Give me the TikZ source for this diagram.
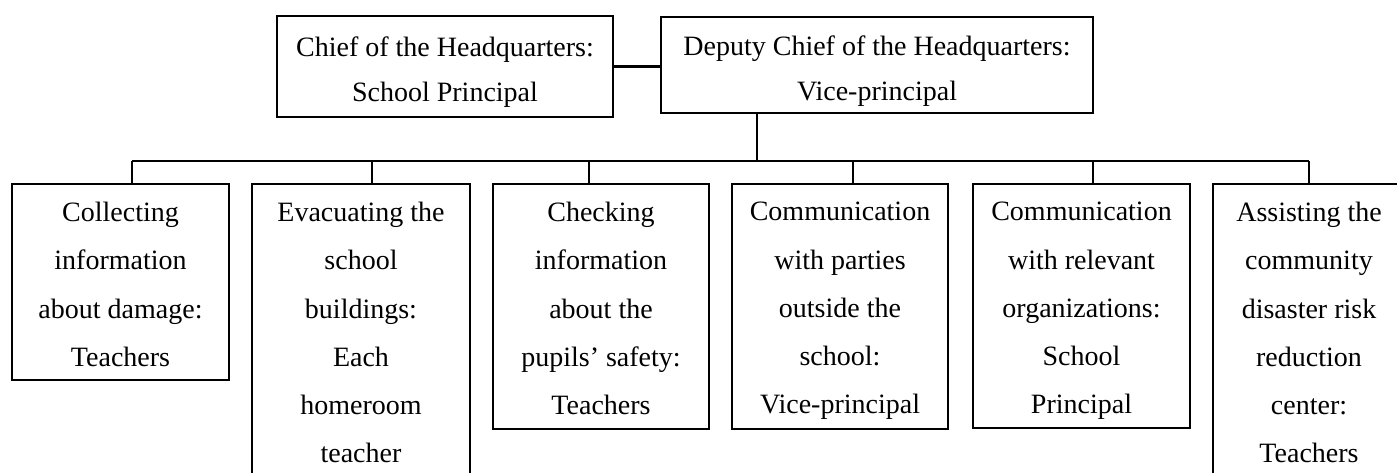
\documentclass[tikz,border=0pt]{standalone}
\usepackage{fontspec}
\setmainfont{Liberation Serif}
\begin{document}
\begin{tikzpicture}[x=1pt,y=-1pt,
  box/.style={draw=black, line width=2.8pt, rectangle, inner sep=0pt},
  label text/.style={inner sep=0pt, align=center, anchor=north,
    font=\fontsize{28}{48.2}\selectfont},
  top text/.style={label text, font=\fontsize{28}{45.5}\selectfont},
  conn/.style={draw=black, line width=2.8pt}]
\useasboundingbox (0,0) rectangle (1397,472);
\clip (0,0) rectangle (1397,472);
\fill[white] (0,0) rectangle (1397,472);
% top boxes
\node[box, minimum width=336pt, minimum height=101pt] (chief) at (445,66.5) {};
\node[top text] (chiefT) at ([yshift=-21.5pt]chief.north)
  {Chief of the Headquarters:\\School Principal};
\node[box, minimum width=432pt, minimum height=96pt] (deputy) at (877,65) {};
\node[top text] (deputyT) at ([yshift=-19.5pt]deputy.north)
  {Deputy Chief of the Headquarters:\\Vice-principal};
% lower boxes
\node[box, minimum width=217pt, minimum height=196pt] (b1) at (120.5,282) {};
\node[label text] (t1) at ([yshift=-19.5pt]b1.north)
  {Collecting\\information\\about damage:\\Teachers};
\node[box, minimum width=218pt, minimum height=300pt] (b2) at (361,334) {};
\node[label text] (t2) at ([yshift=-19.5pt]b2.north)
  {Evacuating the\\school\\buildings:\\Each\\homeroom\\teacher};
\node[box, minimum width=216pt, minimum height=245pt] (b3) at (601,306.5) {};
\node[label text] (t3) at ([yshift=-19.5pt]b3.north)
  {Checking\\information\\about the\\pupils’ safety:\\Teachers};
\node[box, minimum width=216pt, minimum height=245pt] (b4) at (840,306.5) {};
\node[label text] (t4) at ([yshift=-19.5pt]b4.north)
  {Communication\\with parties\\outside the\\school:\\Vice-principal};
\node[box, minimum width=217pt, minimum height=244pt] (b5) at (1081.5,306) {};
\node[label text] (t5) at ([yshift=-19.5pt]b5.north)
  {Communication\\with relevant\\organizations:\\School\\Principal};
\node[box, minimum width=192pt, minimum height=300pt] (b6) at (1309,334) {};
\node[label text] (t6) at ([yshift=-19.5pt]b6.north)
  {Assisting the\\community\\disaster risk\\reduction\\center:\\Teachers};
% bus coordinates
\coordinate (hub) at (757,161);
\coordinate (d1) at (132,161);
\coordinate (d2) at (372,161);
\coordinate (d3) at (589,161);
\coordinate (d4) at (853,161);
\coordinate (d5) at (1093,161);
\coordinate (d6) at (1309,161);
% connectors
\draw[conn] (chief.east) -- (deputy.west |- chief.east);
\draw[conn] (hub |- deputy.south) -- (hub);
\draw[conn] (d1) -- (d6);
\draw[conn] (d1) -- (d1 |- b1.north);
\draw[conn] (d2) -- (d2 |- b2.north);
\draw[conn] (d3) -- (d3 |- b3.north);
\draw[conn] (d4) -- (d4 |- b4.north);
\draw[conn] (d5) -- (d5 |- b5.north);
\draw[conn] (d6) -- (d6 |- b6.north);
\end{tikzpicture}
\end{document}
